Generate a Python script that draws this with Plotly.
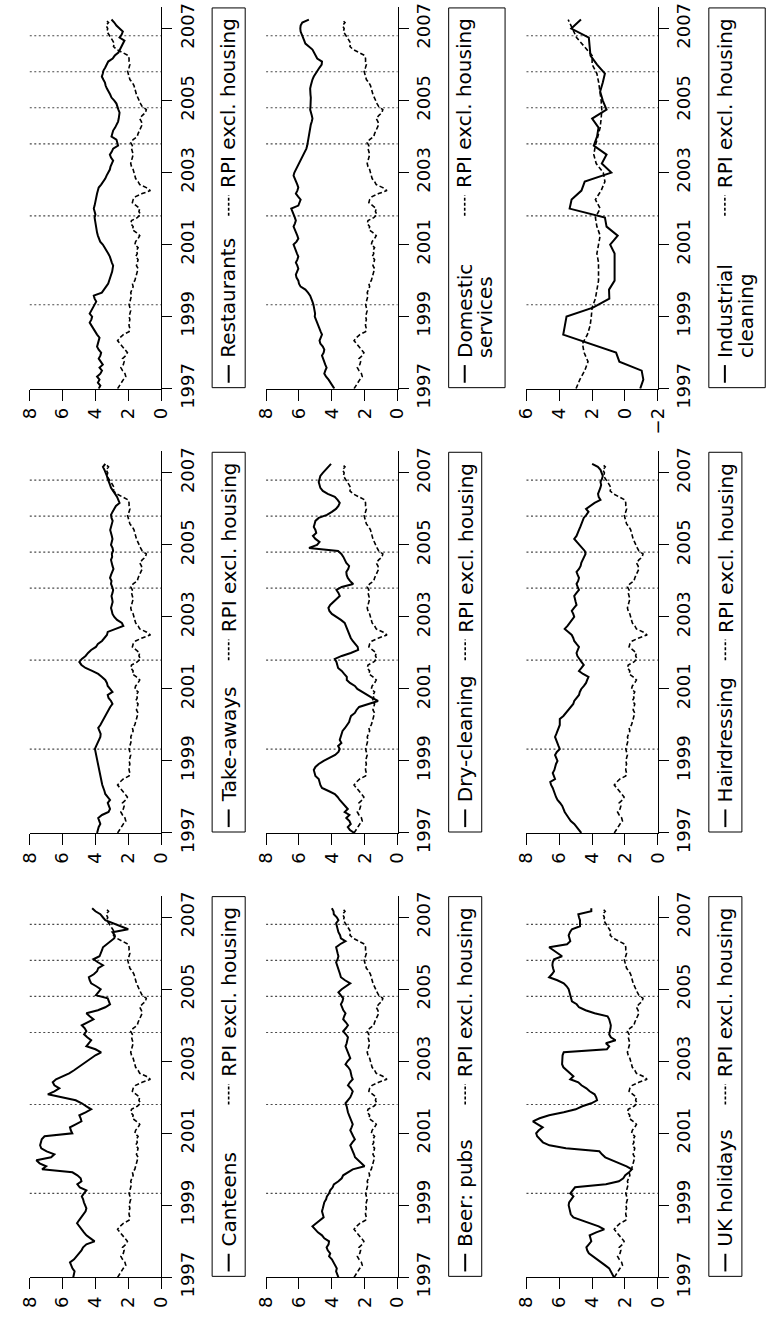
import plotly.graph_objects as go

# ---------------------------------------------------------------------------
# Annual inflation rates (%), monthly from January 1997 to April 2007
# ---------------------------------------------------------------------------
month_index = list(range(124))
quarter_index = list(range(0, 124, 3))

rpi_excl_housing = [
    2.65, 2.55, 2.40, 2.30, 2.15, 2.20, 2.35, 2.45, 2.30, 2.25,
    2.35, 2.15, 2.05, 2.20, 2.35, 2.55, 2.65, 2.50, 2.30, 1.95,
    1.90, 1.95, 1.95, 1.90, 1.95, 1.90, 1.85, 1.90, 1.95, 1.90,
    1.85, 1.80, 1.85, 1.75, 1.70, 1.75, 1.60, 1.55, 1.50, 1.45,
    1.40, 1.50, 1.45, 1.40, 1.55, 1.45, 1.50, 1.40, 1.60, 1.55,
    1.40, 1.30, 1.50, 1.75, 1.70, 1.85, 1.80, 1.45, 1.25, 1.35,
    1.30, 1.55, 1.75, 1.70, 1.55, 1.15, 0.65, 0.90, 1.30, 1.40,
    1.55, 1.60, 1.65, 1.70, 1.80, 1.85, 1.80, 1.75, 1.70, 1.75,
    1.80, 1.75, 1.85, 1.70, 1.45, 1.40, 1.30, 1.25, 1.15, 1.20,
    1.30, 1.15, 0.95, 0.90, 1.15, 1.25, 1.35, 1.45, 1.50, 1.55,
    1.60, 1.65, 1.75, 1.90, 1.95, 2.00, 2.05, 1.95, 1.90, 1.95,
    1.95, 2.00, 2.40, 2.70, 2.90, 2.85, 2.95, 3.05, 3.20, 3.30,
    3.25, 3.35, 3.20, 3.40,
]

restaurants = [
    3.80, 3.70, 3.85, 3.75, 3.90, 3.70, 3.60, 3.75, 3.55, 3.70,
    3.80, 3.70, 3.65, 3.80, 3.90, 3.85, 3.80, 3.75, 3.90, 4.00,
    4.15, 4.25, 4.35, 4.25, 4.20, 4.35, 4.25, 4.10, 4.05, 3.95,
    4.05, 4.10, 3.61, 3.45, 3.35, 3.22, 3.15, 3.08, 3.02, 2.98,
    2.95, 2.92, 3.00, 3.05, 3.12, 3.22, 3.32, 3.42, 3.55, 3.71,
    3.80, 3.85, 3.90, 3.92, 3.95, 4.00, 4.02, 4.05, 4.00, 4.05,
    4.10, 4.05, 4.02, 4.00, 3.95, 3.90, 3.85, 3.80, 3.65, 3.51,
    3.40, 3.32, 3.20, 3.12, 3.08, 3.02, 2.92, 3.05, 3.12, 3.00,
    2.92, 2.62, 2.68, 2.72, 3.02, 2.95, 2.92, 2.80, 2.70, 2.62,
    2.58, 2.55, 2.53, 2.60, 2.65, 2.72, 2.85, 3.02, 3.10, 3.22,
    3.30, 3.38, 3.42, 3.52, 3.61, 3.55, 3.51, 3.40, 3.30, 3.22,
    2.95, 2.82, 2.60, 2.50, 2.40, 2.33, 2.23, 2.53, 2.40, 2.33,
    2.55, 2.72, 2.85, 3.02,
]

domestic_services = [
    3.85, 3.95, 4.10, 4.20, 4.35, 4.46, 4.40, 4.32, 4.40, 4.46,
    4.55, 4.60, 4.50, 4.46, 4.55, 4.70, 4.75, 4.65, 4.60, 4.68,
    4.75, 4.80, 4.89, 4.95, 5.04, 5.02, 5.04, 5.08, 5.12, 5.18,
    5.25, 5.32, 5.45, 5.61, 5.90, 6.00, 6.04, 6.15, 6.19, 6.10,
    6.04, 6.10, 6.19, 6.10, 6.04, 6.12, 6.19, 6.25, 6.33, 6.15,
    6.04, 6.10, 6.19, 6.25, 6.33, 6.25, 6.19, 6.25, 6.33, 6.40,
    6.47, 6.04, 5.95, 5.90, 6.05, 6.19, 6.10, 6.04, 6.10, 6.19,
    6.25, 6.33, 6.28, 6.19, 6.10, 6.00, 5.90, 5.80, 5.70, 5.61,
    5.55, 5.50, 5.47, 5.45, 5.42, 5.38, 5.35, 5.32, 5.28, 5.22,
    5.18, 5.22, 5.28, 5.32, 5.30, 5.28, 5.26, 5.28, 5.30, 5.32,
    5.32, 5.28, 5.24, 5.18, 5.10, 5.00, 4.89, 4.75, 4.62, 4.60,
    4.89, 5.00, 5.10, 5.18, 5.40, 5.61, 5.68, 5.76, 5.82, 5.90,
    5.92, 5.90, 5.80, 5.40,
]

take_aways = [
    3.90, 3.85, 3.80, 3.70, 3.75, 3.83, 3.60, 3.20, 3.11, 3.20,
    3.25, 3.11, 3.25, 3.40, 3.45, 3.54, 3.58, 3.62, 3.66, 3.70,
    3.75, 3.78, 3.83, 3.86, 3.90, 3.95, 3.98, 4.00, 4.03, 3.95,
    3.85, 3.78, 3.70, 3.68, 3.75, 3.83, 3.70, 3.60, 3.54, 3.45,
    3.35, 3.25, 3.10, 2.96, 3.05, 3.20, 3.25, 2.96, 3.10, 3.25,
    3.30, 3.40, 3.60, 3.83, 4.20, 4.60, 4.85, 4.98, 4.83, 4.60,
    4.45, 4.26, 3.97, 3.85, 3.60, 3.45, 3.30, 3.25, 2.82, 2.30,
    2.39, 2.68, 2.85, 2.96, 3.00, 3.05, 3.00, 2.95, 2.98, 3.02,
    2.96, 2.92, 2.98, 3.05, 3.02, 3.11, 3.05, 2.96, 2.90, 2.96,
    3.02, 3.05, 2.98, 3.00, 2.92, 2.96, 3.05, 3.02, 2.96, 3.00,
    3.05, 3.10, 3.05, 3.00, 2.95, 3.02, 3.05, 2.96, 2.85, 2.75,
    2.53, 2.60, 2.68, 2.80, 2.95, 3.05, 3.11, 3.20, 3.25, 3.30,
    3.40, 3.45, 3.54, 3.40,
]

dry_cleaning = [
    2.63, 2.90, 3.03, 2.85, 2.93, 3.12, 2.93, 3.22, 3.03, 3.20,
    3.40, 3.52, 3.65, 3.82, 4.20, 4.60, 4.70, 4.75, 4.80, 5.00,
    5.05, 5.10, 5.00, 4.80, 4.50, 4.10, 3.80, 3.60, 3.52, 3.62,
    3.42, 3.52, 3.45, 3.42, 3.35, 3.20, 3.09, 2.95, 2.90, 2.83,
    2.60, 2.50, 2.34, 1.75, 1.19, 1.55, 1.85, 2.15, 2.45, 2.60,
    2.90, 3.09, 3.09, 3.25, 3.40, 3.62, 3.65, 3.72, 3.82, 3.40,
    2.85, 2.40, 2.43, 2.60, 2.73, 2.85, 2.93, 3.00, 3.05, 3.15,
    3.22, 3.45, 3.70, 4.00, 4.15, 4.21, 4.10, 3.90, 3.70, 3.52,
    3.60, 3.72, 3.40, 2.70, 2.90, 3.03, 3.10, 3.12, 3.00, 2.95,
    3.12, 3.20, 3.30, 3.42, 3.62, 5.39, 4.90, 4.75, 5.00, 5.15,
    4.95, 5.00, 5.10, 5.05, 5.00, 4.80, 4.30, 4.00, 3.75, 3.60,
    3.52, 3.65, 3.82, 4.25, 4.55, 4.70, 4.75, 4.80, 4.75, 4.70,
    4.55, 4.40, 4.20, 4.05,
]

hairdressing = [
    4.66, 4.80, 4.95, 5.09, 5.30, 5.40, 5.55, 5.67, 5.75, 5.82,
    5.95, 6.11, 6.20, 6.26, 6.35, 6.40, 6.50, 6.55, 6.26, 6.35,
    6.40, 6.30, 6.26, 6.20, 6.11, 6.20, 6.26, 6.15, 5.97, 6.05,
    6.11, 6.20, 6.26, 6.18, 6.11, 6.05, 5.97, 5.97, 5.97, 5.75,
    5.60, 5.45, 5.30, 5.15, 5.09, 4.95, 4.80, 4.75, 4.66, 4.50,
    4.37, 4.30, 4.22, 4.55, 4.80, 4.65, 4.51, 4.65, 4.80, 4.90,
    4.95, 4.88, 4.80, 4.95, 5.09, 5.15, 5.24, 5.45, 5.67, 5.50,
    5.38, 5.25, 5.09, 5.15, 5.24, 5.10, 4.95, 5.00, 5.05, 5.09,
    4.95, 4.80, 4.88, 4.95, 4.85, 4.80, 4.88, 4.95, 4.80, 4.70,
    4.66, 4.58, 4.51, 4.40, 4.45, 4.60, 4.80, 4.95, 5.09, 4.95,
    4.85, 4.80, 4.72, 4.66, 4.58, 4.51, 4.35, 4.22, 4.37, 4.10,
    3.85, 3.49, 3.60, 3.64, 3.55, 3.50, 3.45, 3.49, 3.40, 3.35,
    3.42, 3.49, 3.65, 4.00,
]

canteens = [
    5.35, 5.30, 5.27, 5.40, 5.50, 5.55, 5.30, 5.12, 5.00, 4.85,
    4.75, 4.55, 4.05, 4.30, 4.55, 4.70, 4.85, 5.00, 5.12, 5.00,
    4.85, 4.70, 4.60, 4.55, 4.65, 4.70, 4.75, 4.83, 4.70, 4.55,
    4.95, 5.10, 4.85, 4.90, 5.10, 5.40, 7.25, 7.00, 7.40, 7.60,
    6.70, 6.50, 6.97, 7.30, 7.37, 7.30, 7.27, 7.10, 5.41, 5.50,
    5.55, 5.20, 4.85, 4.90, 4.98, 4.60, 4.26, 4.55, 4.83, 5.20,
    6.10, 6.90, 6.50, 6.20, 6.50, 6.60, 6.40, 5.95, 5.60, 5.30,
    5.05, 4.80, 4.55, 4.30, 4.00, 3.65, 4.00, 4.55, 4.40, 4.26,
    4.50, 4.69, 4.55, 4.65, 4.83, 4.50, 4.12, 4.35, 4.55, 3.85,
    3.40, 3.11, 3.20, 3.25, 3.97, 3.80, 3.68, 3.95, 4.26, 4.35,
    4.40, 4.10, 3.90, 3.83, 3.54, 3.85, 4.12, 3.75, 3.65, 3.60,
    3.54, 3.30, 3.11, 2.85, 2.82, 2.96, 2.00, 2.50, 3.00, 3.40,
    3.55, 3.70, 4.00, 4.20,
]

beer_pubs = [
    3.60, 3.68, 3.74, 3.70, 3.80, 3.88, 4.00, 4.17, 4.10, 4.25,
    4.32, 4.20, 4.17, 4.46, 4.60, 4.85, 5.04, 5.18, 4.95, 4.75,
    4.50, 4.55, 4.60, 4.55, 4.50, 4.46, 4.35, 4.30, 4.17, 4.10,
    3.95, 3.88, 3.60, 3.40, 3.31, 3.00, 2.73, 2.01, 2.20, 2.40,
    2.59, 2.65, 2.73, 2.80, 2.88, 2.75, 2.60, 2.70, 2.80, 2.88,
    2.80, 2.73, 2.80, 2.90, 2.95, 3.02, 3.05, 3.10, 3.17, 3.00,
    2.88, 2.80, 2.73, 2.85, 3.02, 2.90, 2.73, 2.80, 2.85, 2.88,
    3.00, 3.17, 3.05, 2.88, 2.95, 3.02, 3.10, 3.17, 3.10, 3.05,
    3.02, 3.15, 3.31, 3.15, 3.02, 3.15, 3.31, 3.25, 3.17, 3.30,
    3.40, 3.45, 3.35, 3.31, 3.45, 3.60, 3.40, 3.10, 2.88, 3.20,
    3.45, 3.50, 3.55, 3.60, 3.65, 3.74, 3.65, 3.60, 3.65, 3.70,
    3.74, 3.50, 3.17, 3.45, 3.50, 3.60, 3.65, 3.70, 3.74, 3.60,
    3.70, 3.88, 3.90, 4.00,
]

uk_holidays = [
    2.67, 2.75, 2.85, 2.96, 3.20, 3.45, 3.70, 4.00, 4.20, 4.30,
    4.35, 4.20, 4.05, 4.10, 4.15, 3.75, 3.26, 3.60, 4.10, 4.54,
    5.14, 5.30, 5.35, 5.40, 5.43, 5.40, 5.25, 5.14, 5.33, 5.20,
    5.04, 3.16, 2.37, 2.10, 1.98, 1.75, 1.58, 1.90, 2.30, 2.70,
    3.20, 3.40, 3.56, 5.60, 6.60, 7.00, 7.21, 7.35, 7.41, 7.25,
    7.01, 7.30, 7.61, 7.20, 6.62, 5.73, 5.00, 4.60, 4.05, 3.70,
    3.75, 3.85, 4.15, 4.35, 4.65, 4.84, 5.33, 5.14, 5.35, 5.53,
    5.75, 5.83, 5.83, 5.83, 5.80, 5.73, 3.10, 2.96, 3.16, 2.57,
    2.86, 2.96, 2.90, 2.88, 2.86, 2.90, 2.96, 3.06, 3.85, 4.40,
    4.80, 4.94, 5.23, 5.28, 5.33, 5.38, 5.43, 5.55, 5.73, 6.12,
    6.62, 6.45, 6.32, 6.38, 6.42, 6.40, 6.32, 5.83, 6.10, 6.42,
    6.62, 5.53, 5.33, 5.38, 5.43, 5.35, 5.23, 4.74, 4.74, 4.74,
    4.80, 4.84, 4.05, 4.05,
]

# Industrial cleaning and its comparator are quarterly series
industrial_cleaning = [
    -0.93, -1.12, -1.02, 0.34, 0.54, 2.15, 3.76, 3.66, 3.56, 1.95,
    0.95, 0.97, 0.63, 0.63, 0.63, 0.63, 0.90, 0.44, 1.12, 1.22,
    3.37, 3.25, 2.65, 2.45, 0.83, 1.41, 1.12, 1.90, 1.70, 1.61,
    2.00, 1.12, 1.35, 1.51, 1.35, 1.22, 1.70, 2.10, 2.15, 2.20,
    3.27, 2.68,
]

rpi_excl_housing_quarterly = [
    2.98, 2.75, 2.45, 2.25, 2.49, 2.59, 2.29, 2.12, 2.05, 2.00,
    1.80, 1.70, 1.61, 1.61, 1.61, 1.71, 1.62, 1.51, 1.71, 1.80,
    1.51, 1.80, 1.45, 1.22, 1.32, 1.75, 1.90, 1.80, 1.65, 1.51,
    1.45, 1.41, 1.45, 1.51, 1.60, 1.71, 2.00, 2.00, 2.50, 2.95,
    3.20, 3.46,
]

# National Minimum Wage introduction and upratings
uprating_dates = [1999.33, 2001.8, 2003.8, 2004.8, 2005.8, 2006.8]

year_ticks = [1997, 1999, 2001, 2003, 2005, 2007]
rate_ticks = [8, 6, 4, 2, 0]
rate_ticks_wide = [6, 4, 2, 0, -2]
rate_tick_text_wide = ["6", "4", "2", "0", "\u22122"]
rpi_label = "RPI excl. housing"

months_t = [1997 + m / 12 for m in month_index]
quarters_t = [1997 + m / 12 for m in quarter_index]

# ---------------------------------------------------------------------------
# Page geometry (pixels)
# ---------------------------------------------------------------------------
W, H = 766, 1332
COLS = [(19.3, 154.3), (262.3, 397.5), (530.0, 665.0)]
BOTTOMS = [391.7, 844.2, 1296.7]
T_MIN, T_MAX = 1997.0, 2007.6
PX_PER_YEAR = 36.67
FONT = "DejaVu Sans"
TICK_SIZE = 18
KEY_SIZE = 20
DASH = "4.5px,2.5px"


def fx(px):
    return px / W


def fy(py):
    return 1 - py / H


panels = [
    dict(row=0, col=0, lines=["Restaurants"], y=restaurants, rpi="m"),
    dict(row=0, col=1, lines=["Domestic", "services"], y=domestic_services, rpi="m"),
    dict(row=0, col=2, lines=["Industrial", "cleaning"], y=industrial_cleaning, rpi="q"),
    dict(row=1, col=0, lines=["Take-aways"], y=take_aways, rpi="m"),
    dict(row=1, col=1, lines=["Dry-cleaning"], y=dry_cleaning, rpi="m"),
    dict(row=1, col=2, lines=["Hairdressing"], y=hairdressing, rpi="m"),
    dict(row=2, col=0, lines=["Canteens"], y=canteens, rpi="m"),
    dict(row=2, col=1, lines=["Beer: pubs"], y=beer_pubs, rpi="m"),
    dict(row=2, col=2, lines=["UK holidays"], y=uk_holidays, rpi="m"),
]

fig = go.Figure()
layout = dict(
    width=W, height=H,
    margin=dict(l=0, r=0, t=0, b=0),
    paper_bgcolor="white", plot_bgcolor="white",
    showlegend=False,
    font=dict(family=FONT, color="black"),
)
shapes = []
annotations = []

for k, p in enumerate(panels, start=1):
    xn = "x" if k == 1 else f"x{k}"
    yn = "y" if k == 1 else f"y{k}"
    xl = "xaxis" if k == 1 else f"xaxis{k}"
    yl = "yaxis" if k == 1 else f"yaxis{k}"

    left, right = COLS[p["col"]]
    bottom = BOTTOMS[p["row"]]
    top = bottom - (T_MAX - T_MIN) * PX_PER_YEAR
    wide = p["rpi"] == "q"

    layout[xl] = dict(
        domain=[fx(left), fx(right)],
        range=[6, -2] if wide else [8, 0],
        anchor=yn, side="bottom",
        showline=True, linecolor="black", linewidth=1,
        ticks="outside", ticklen=11, tickwidth=1, tickcolor="black",
        tickmode="array",
        tickvals=rate_ticks_wide if wide else rate_ticks,
        ticktext=rate_tick_text_wide if wide else [str(v) for v in rate_ticks],
        tickangle=-90, tickfont=dict(family=FONT, size=TICK_SIZE, color="black"),
        showgrid=False, zeroline=False, fixedrange=True,
    )
    layout[yl] = dict(
        domain=[fy(bottom), fy(top)],
        range=[T_MIN, T_MAX],
        anchor=xn, side="right",
        showline=True, linecolor="black", linewidth=1,
        ticks="outside", ticklen=10, tickwidth=1, tickcolor="black",
        tickmode="array", tickvals=year_ticks,
        ticktext=[str(v) for v in year_ticks],
        tickangle=-90, tickfont=dict(family=FONT, size=TICK_SIZE, color="black"),
        showgrid=False, zeroline=False, fixedrange=True,
    )

    # minimum wage reference lines
    for d in uprating_dates:
        shapes.append(dict(
            type="line", xref=f"{xn} domain", yref=yn,
            x0=0, x1=1, y0=d, y1=d,
            line=dict(color="#4a4a4a", width=1.2, dash="2px,2.5px"),
            layer="below",
        ))

    if wide:
        t_series, rpi_series = quarters_t, rpi_excl_housing_quarterly
    else:
        t_series, rpi_series = months_t, rpi_excl_housing

    fig.add_trace(go.Scatter(
        x=rpi_series, y=t_series, xaxis=xn, yaxis=yn, mode="lines",
        line=dict(color="black", width=1.6, dash=DASH),
        hoverinfo="skip",
    ))
    fig.add_trace(go.Scatter(
        x=p["y"], y=t_series, xaxis=xn, yaxis=yn, mode="lines",
        line=dict(color="black", width=2),
        hoverinfo="skip",
    ))

    # key box (rotated text, reads bottom to top)
    box_left = right + 52.5
    two_line = len(p["lines"]) > 1
    box_right = box_left + (58 if two_line else 34)
    shapes.append(dict(
        type="rect", xref="paper", yref="paper",
        x0=fx(box_left), x1=fx(box_right), y0=fy(bottom - 1), y1=fy(top + 1),
        line=dict(color="black", width=1), fillcolor="rgba(0,0,0,0)",
    ))
    cx = box_left + 16.5 if two_line else (box_left + box_right) / 2

    shapes.append(dict(
        type="line", xref="paper", yref="paper",
        x0=fx(cx), x1=fx(cx), y0=fy(bottom - 6), y1=fy(bottom - 24),
        line=dict(color="black", width=2),
    ))
    shapes.append(dict(
        type="line", xref="paper", yref="paper",
        x0=fx(cx), x1=fx(cx), y0=fy(bottom - 176), y1=fy(bottom - 197),
        line=dict(color="black", width=1.6, dash="3px,2px"),
    ))
    for j, txt in enumerate(p["lines"]):
        annotations.append(dict(
            xref="paper", yref="paper", x=fx(cx + 21 * j), y=fy(bottom - 30),
            xanchor="center", yanchor="bottom", text=txt, textangle=-90,
            showarrow=False, font=dict(family=FONT, size=KEY_SIZE, color="black"),
            borderpad=0,
        ))
    annotations.append(dict(
        xref="paper", yref="paper", x=fx(cx), y=fy(bottom - 203),
        xanchor="center", yanchor="bottom", text=rpi_label, textangle=-90,
        showarrow=False, font=dict(family=FONT, size=KEY_SIZE, color="black"),
        borderpad=0,
    ))

layout["shapes"] = shapes
layout["annotations"] = annotations
fig.update_layout(**layout)
fig.write_html("out.html")
